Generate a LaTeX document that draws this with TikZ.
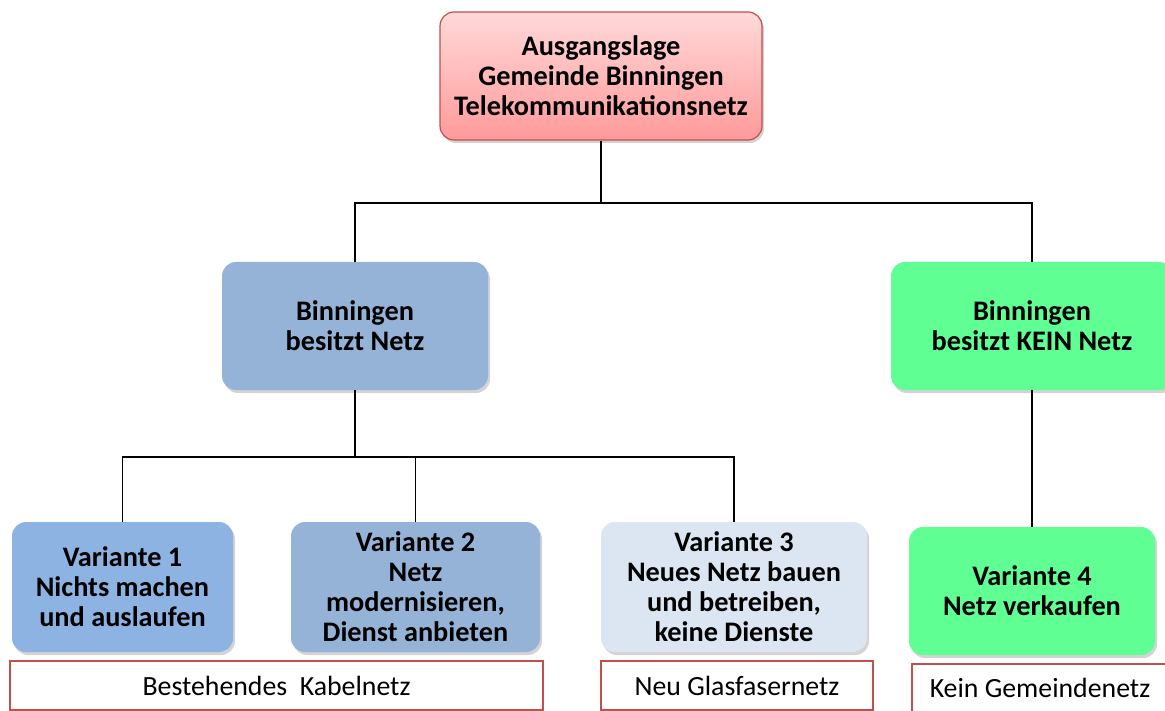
\documentclass[tikz,border=0pt]{standalone}
\usepackage{fontspec}
\setmainfont{Carlito}
\usetikzlibrary{shadows}
\definecolor{topA}{HTML}{FFD9D9}
\definecolor{topB}{HTML}{FF9A9A}
\definecolor{redline}{HTML}{C0504D}
\definecolor{blueA}{HTML}{95B3D7}
\definecolor{blueB}{HTML}{8DB3E2}
\definecolor{blueC}{HTML}{DCE6F2}
\definecolor{greenA}{HTML}{5FFF94}
\tikzset{
  box/.style={rounded corners=14pt, align=center, inner sep=0pt,
    font=\fontsize{28.3}{30}\selectfont\bfseries,
    drop shadow={opacity=0.35, shadow xshift=2pt, shadow yshift=-3pt}},
  lab/.style={draw=redline, line width=2.4pt, fill=white, inner sep=0pt,
    font=\fontsize{27.8}{30}\selectfont},
  conn/.style={line width=1.6pt, black}
}
\begin{document}
\begin{tikzpicture}[x=1pt,y=-1pt]
\useasboundingbox (0,0) rectangle (1165,711);
\clip (0,0) rectangle (1165,711);
\node[box, draw=redline, line width=1.2pt, top color=topA, bottom color=topB,
  minimum width=322pt, minimum height=128pt] (top) at (601,76)
  {Ausgangslage\\Gemeinde Binningen\\Telekommunikationsnetz};
\node[box, fill=blueA, minimum width=266pt, minimum height=128pt] (mid1) at (355,326)
  {Binningen\\besitzt Netz};
\node[box, fill=greenA, minimum width=282pt, minimum height=128pt] (mid2) at (1032,326)
  {Binningen\\besitzt KEIN Netz};
\node[box, fill=blueB, minimum width=221pt, minimum height=130pt] (v1) at (122.5,587)
  {Variante 1\\Nichts machen\\und auslaufen};
\node[box, fill=blueA, minimum width=249pt, minimum height=130pt] (v2) at (415.5,587)
  {Variante 2\\Netz\\modernisieren,\\Dienst anbieten};
\node[box, fill=blueC, minimum width=266pt, minimum height=130pt] (v3) at (734,587)
  {Variante 3\\Neues Netz bauen\\und betreiben,\\keine Dienste};
\node[box, fill=greenA, minimum width=246pt, minimum height=128pt] (v4) at (1032,591)
  {Variante 4\\Netz verkaufen};
\node[lab, minimum width=533pt, minimum height=49pt] (l1) at (276.5,685.5)
  {Bestehendes\hspace{0.45em}Kabelnetz};
\node[lab, minimum width=272pt, minimum height=49pt] (l2) at (737,685.5)
  {Neu Glasfasernetz};
\node[lab, minimum width=256pt, minimum height=48pt] (l3) at (1040,688)
  {Kein Gemeindenetz};
\coordinate (j1) at (601,203);
\coordinate (j2) at (355,457);
\draw[conn] (top.south) -- (j1);
\draw[conn] (mid1.north) |- (j1) -| (mid2.north);
\draw[conn] (mid1.south) -- (j2);
\draw[conn] (v1.north) |- (j2) -| (v3.north);
\draw[conn] (j2 -| v2.north) -- (v2.north);
\draw[conn] (mid2.south) -- (v4.north);
\end{tikzpicture}
\end{document}
